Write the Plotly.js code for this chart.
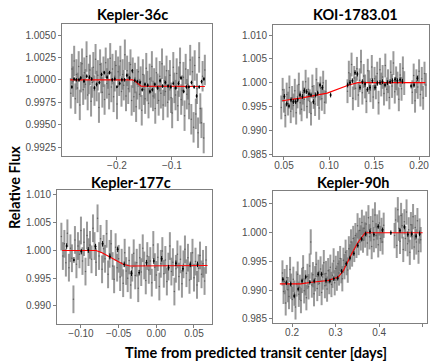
<!DOCTYPE html>
<html>
<head>
<meta charset="utf-8">
<script src="https://cdn.plot.ly/plotly-3.0.1.min.js"></script>
<style>html,body{margin:0;padding:0;background:#fff;}#chart{width:430px;height:364px;}</style>
</head>
<body>
<div id="chart"></div>
<script>
// ---------- Panel titles ----------
const panelTitles = ["Kepler-36c", "KOI-1783.01", "Kepler-177c", "Kepler-90h"];

// ---------- Kepler-36c ----------
const k36_raw_x0 = -0.284, k36_raw_dx = 0.00205, k36_raw_err = 0.0017;
const k36_raw = [
 0.9985,1.0012,0.9998,1.0021,0.9979,1.0006,0.9991,1.0015,0.9972,1.0003,
 1.0018,0.9989,1.0008,0.9995,1.0026,0.9983,1.0001,1.0011,0.9976,0.9997,
 1.0014,0.9988,1.0023,0.9993,1.0005,0.9969,1.0017,1.0002,0.9986,1.0009,
 0.9978,1.0019,0.9996,1.0007,0.9984,1.0024,0.9992,1.0012,0.9981,1.0004,
 1.0016,0.9973,1.0009,0.9999,1.0021,0.9987,1.0006,0.9994,1.0028,0.9982,
 1.0010,0.9990,1.0003,1.0017,0.9977,1.0008,
 0.9981,1.0002,0.9970,0.9995,1.0009,0.9984,0.9998,0.9966,1.0006,0.9989,
 0.9979,1.0013,0.9993,0.9974,1.0001,0.9986,1.0015,0.9982,0.9996,0.9968,
 1.0008,0.9990,0.9977,1.0004,0.9985,1.0018,0.9972,0.9999,0.9987,1.0010,
 0.9975,0.9994,1.0005,0.9980,0.9963,1.0014,0.9991,0.9983,1.0007,0.9971,
 0.9998,1.0019,0.9978,0.9988,1.0003,0.9960,1.0012,0.9984,0.9995,0.9973,
 1.0022,0.9956,1.0009,0.9947,1.0016,0.9962,0.9990,0.9941,1.0025,0.9968,
 0.9952,1.0004,0.9935,1.0011];
const k36_bin_x = [-0.282,-0.278,-0.274,-0.269,-0.266,-0.260,-0.255,-0.250,-0.246,-0.241,
 -0.237,-0.232,-0.228,-0.223,-0.218,-0.2135,-0.2086,-0.204,-0.200,-0.195,
 -0.191,-0.186,-0.182,-0.177,-0.172,-0.1675,-0.163,-0.158,-0.154,-0.149,
 -0.144,-0.140,-0.1356,-0.131,-0.126,-0.1215,-0.117,-0.112,-0.107,-0.102,
 -0.0975,-0.093,-0.088,-0.0834,-0.0785,-0.0736,-0.069,-0.0644,-0.0595,-0.055,
 -0.0503,-0.046,-0.0417];
const k36_bin_y = [0.9992,1.0001,1.0000,1.0000,1.0002,0.99985,1.0004,1.0003,1.0001,0.9991,
 0.9995,0.9997,1.0006,1.0008,1.0003,1.0008,1.0000,1.0001,0.9992,0.9996,
 1.0000,1.0000,1.0005,1.0002,1.0010,0.99993,0.9998,0.9997,0.9989,0.9995,
 0.9994,0.9987,0.9989,0.9995,0.9991,0.9999,0.9993,0.9997,0.9993,0.9992,
 0.9996,0.9991,0.9996,1.0002,0.9987,0.9992,0.9992,0.9997,0.9992,0.9982,
 0.9992,0.9998,1.0001];
const k36_model_x = [-0.285,-0.172,-0.168,-0.164,-0.160,-0.156,-0.040];
const k36_model_y = [1.0000,1.0000,0.9999,0.9997,0.9995,0.9993,0.99925];

// ---------- KOI-1783.01 ----------
const koi_raw_x0 = 0.047, koi_raw_dx = 0.0015, koi_raw_err = 0.0025;
const koi_raw = [
 0.9948,0.9985,0.9962,0.9931,0.9975,0.9956,0.9990,0.9940,0.9968,0.9952,
 0.9983,0.9937,0.9971,0.9996,0.9958,0.9944,0.9979,0.9965,1.0002,0.9950,
 0.9986,0.9961,0.9935,0.9992,0.9970,0.9955,1.0006,0.9976,0.9947,0.9988,
 0.9966,1.0000,0.9959,0.9981,
 null,null,null,null,null,null,null,null,null,null,null,null,null,null,null,
 0.9982,1.0021,0.9995,1.0038,0.9967,1.0010,0.9988,1.0029,0.9974,1.0005,
 1.0044,0.9979,1.0014,0.9992,0.9961,1.0025,1.0001,0.9984,1.0033,0.9970,
 1.0008,0.9990,1.0019,0.9958,1.0027,0.9996,1.0012,0.9977,1.0036,0.9986,
 1.0003,0.9969,1.0022,0.9993,1.0041,0.9981,1.0009,0.9998,0.9965,1.0016,
 0.9987,1.0030,0.9999,
 null,null,null,null,null,
 0.9980,1.0015,0.9962,1.0003,0.9991,1.0024,0.9975,1.0008,0.9968,1.0019,0.9995];
const koi_bin_x = [0.0504,0.053,0.0556,0.0578,0.0604,0.063,0.0652,0.0678,0.0704,0.0726,
 0.0752,0.0778,0.080,0.0826,0.0852,0.0874,0.090,0.0926,0.1018,
 0.1207,0.1233,0.1259,0.1289,0.1315,0.1344,0.137,0.140,0.1426,0.1455,
 0.1481,0.1511,0.1537,0.1566,0.1593,0.1622,0.1648,0.1678,0.1704,0.1733,
 0.1759,0.1789,0.1815,0.1911,0.1944,0.1981];
const koi_bin_y = [0.9971,0.99555,0.9951,0.9964,0.9960,0.9960,0.9964,0.9974,0.9971,0.9983,
 0.9981,0.9976,0.9974,0.9960,0.9974,0.9978,0.9995,0.9990,0.9974,
 0.9995,1.0000,1.0004,1.0021,1.0018,0.9990,1.0002,0.9997,0.9986,0.9990,
 1.0004,0.9990,0.9999,1.0000,1.0002,0.9995,1.0000,1.0002,1.0004,1.0007,
 1.0004,1.0006,1.0003,0.9993,0.9995,1.0009];
const koi_model_x = [0.048,0.070,0.098,0.110,0.122,0.132,0.207];
const koi_model_y = [0.9962,0.9968,0.9978,0.9987,0.9995,1.0000,1.0000];

// ---------- Kepler-177c ----------
const k177_raw_x0 = -0.126, k177_raw_dx = 0.002, k177_raw_err = 0.0025;
const k177_raw = [
 1.0025,0.9990,1.0012,0.9978,1.0031,0.9969,1.0004,0.9986,0.9912,1.0019,
 0.9975,1.0008,0.9993,1.0036,0.9981,1.0015,0.9962,1.0027,0.9997,1.0010,
 0.9984,
 1.0040,1.0008,0.9979,1.0058,0.9990,1.0021,0.9966,1.0003,0.9985,1.0030,
 0.9957,0.9994,1.0012,0.9972,0.9948,1.0006,0.9969,0.9985,0.9952,0.9978,
 0.9941,0.9996,0.9963,
 0.9950,0.9982,0.9938,0.9969,0.9995,0.9955,0.9978,0.9932,0.9987,0.9961,
 1.0004,0.9973,0.9946,0.9990,0.9965,0.9981,0.9942,1.0010,0.9970,0.9956,
 0.9988,0.9935,0.9976,0.9999,0.9958,0.9983,0.9944,0.9971,1.0008,0.9962,
 0.9979,0.9926,0.9967,0.9993,0.9953,0.9984,0.9940,0.9975,1.0002,0.9959,
 0.9987,0.9947,0.9972,0.9996,0.9951,0.9980,0.9938,0.9968,0.9991,0.9957,
 0.9976,0.9945,0.9983];
const k177_bin_x = [-0.119,-0.1093,-0.0996,-0.0903,-0.0806,-0.0713,-0.0616,-0.0513,-0.0426,-0.0329,
 -0.0228,-0.0131,-0.0034,0.0071,0.0163,0.0260,0.0353,0.0450,0.0547];
const k177_bin_y = [1.0008,0.9983,0.9998,1.0001,1.0007,1.0012,0.9989,1.0002,0.9975,0.9959,
 0.9960,0.9978,0.9981,0.9985,0.9969,0.9977,0.9967,0.9975,0.9975];
const k177_model_x = [-0.125,-0.080,-0.072,-0.062,-0.052,-0.044,-0.035,0.068];
const k177_model_y = [1.0000,1.0000,0.9996,0.9989,0.9981,0.9975,0.9972,0.9973];

// ---------- Kepler-90h ----------
const k90_raw_x0 = 0.178, k90_raw_dx = 0.0025, k90_raw_err = 0.0022;
const k90_raw = [
 0.9930,0.9898,0.9915,0.9878,0.9922,0.9901,0.9889,0.9936,0.9907,0.9884,
 0.9919,0.9895,0.9871,0.9911,0.9928,0.9893,0.9905,0.9882,0.9917,0.9939,
 0.9899,0.9913,0.9887,0.9924,0.9906,0.9942,0.9984,0.9909,0.9927,0.9894,
 0.9920,0.9945,0.9903,0.9931,0.9912,0.9937,0.9896,0.9923,0.9948,0.9908,
 0.9929,0.9902,0.9934,0.9915,0.9940,0.9910,
 0.9926,0.9951,0.9913,0.9938,0.9921,0.9946,0.9930,0.9955,
 0.9934,0.9920,0.9952,0.9941,0.9966,0.9948,0.9935,0.9972,0.9958,0.9984,
 0.9963,0.9990,0.9971,0.9995,0.9978,1.0012,0.9983,1.0004,0.9991,1.0018,
 0.9987,1.0008,0.9996,
 1.0015,0.9982,1.0026,0.9993,1.0007,0.9976,1.0020,0.9988,1.0031,0.9995,
 1.0010,0.9979,1.0017,0.9990,1.0004,0.9984,1.0013,
 null,null,null,null,null,null,null,null,null,
 0.9995,1.0022,0.9978,1.0040,1.0008,0.9985,1.0030,1.0012,0.9971,1.0019,
 0.9990,1.0036,0.9981,1.0005,0.9966,1.0014,0.9993,1.0028,0.9975,1.0009,
 0.9984,1.0021,0.9968,1.0003,0.9988];
const k90_bin_x = [0.179,0.187,0.197,0.205,0.214,0.223,0.2315,0.241,0.251,0.260,
 0.268,0.278,0.287,0.296,0.305,0.314,0.3246,0.333,0.342,0.351,
 0.360,0.369,0.379,0.388,0.398,0.408,0.427,0.448,0.458,0.466,
 0.475,0.485,0.493];
const k90_bin_y = [0.9919,0.9913,0.9911,0.9890,0.9902,0.9916,0.9923,0.9914,0.9916,0.9928,
 0.9928,0.9917,0.9916,0.9920,0.9921,0.9933,0.9946,0.9956,0.9964,0.9978,
 0.9989,0.9998,1.0002,0.9997,1.0011,1.0005,1.0000,1.0004,1.0010,0.9997,
 0.9998,0.9994,0.9998];
const k90_model_x = [0.172,0.220,0.245,0.283,0.306,0.318,0.337,0.352,0.368,0.500];
const k90_model_y = [0.9911,0.9911,0.9914,0.9917,0.9923,0.9934,0.99635,0.9984,1.0000,1.0000];

// ---------- tick labels ----------
const k36_yticks = [0.9925,0.9950,0.9975,1.0000,1.0025,1.0050];
const koi_yticks = [0.985,0.990,0.995,1.000,1.005,1.010];
const k177_yticks = [0.990,0.995,1.000,1.005,1.010];
const k90_yticks = [0.985,0.990,0.995,1.000,1.005];
const k36_xticks = [-0.2,-0.1];
const koi_xticks = [0.05,0.10,0.15,0.20];
const k177_xticks = [-0.10,-0.05,0.00,0.05];
const k90_xticks = [0.2,0.3,0.4,0.5];

const xAxisTitle = "Time from predicted transit center [days]";
const yAxisTitle = "Relative Flux";

// ---------- build traces ----------
const panels = [
  {raw:k36_raw,x0:k36_raw_x0,dx:k36_raw_dx,err:k36_raw_err,bx:k36_bin_x,by:k36_bin_y,berr:0.0002,mx:k36_model_x,my:k36_model_y},
  {raw:koi_raw,x0:koi_raw_x0,dx:koi_raw_dx,err:koi_raw_err,bx:koi_bin_x,by:koi_bin_y,berr:0.0005,mx:koi_model_x,my:koi_model_y},
  {raw:k177_raw,x0:k177_raw_x0,dx:k177_raw_dx,err:k177_raw_err,bx:k177_bin_x,by:k177_bin_y,berr:0.0005,mx:k177_model_x,my:k177_model_y},
  {raw:k90_raw,x0:k90_raw_x0,dx:k90_raw_dx,err:k90_raw_err,bx:k90_bin_x,by:k90_bin_y,berr:0.0004,mx:k90_model_x,my:k90_model_y}
];
const traces = [];
panels.forEach((p,i)=>{
  const sfx = i===0 ? '' : String(i+1);
  const xa = 'x'+sfx, ya = 'y'+sfx;
  traces.push({type:'scatter',mode:'markers',y:p.raw,x0:p.x0,dx:p.dx,xaxis:xa,yaxis:ya,
    marker:{size:1.5,color:'rgba(80,80,80,0.8)'},
    error_y:{type:'constant',value:p.err,color:'rgba(115,115,115,0.72)',thickness:2,width:0},
    showlegend:false,hoverinfo:'skip'});
  traces.push({type:'scatter',mode:'lines',x:p.mx,y:p.my,xaxis:xa,yaxis:ya,
    line:{color:'#ff0000',width:1.1},showlegend:false,hoverinfo:'skip'});
  traces.push({type:'scatter',mode:'markers',x:p.bx,y:p.by,xaxis:xa,yaxis:ya,
    marker:{size:2,color:'#000'},
    error_y:{type:'constant',value:p.berr,color:'#000',thickness:1,width:0},
    showlegend:false,hoverinfo:'skip'});
});

const tickFont = {family:'Liberation Sans, Arial, sans-serif',size:10,color:'#4d4d4d'};
function axBase(){
  return {showgrid:false,zeroline:false,showline:true,mirror:true,linecolor:'#7f7f7f',linewidth:1,
    ticks:'outside',ticklen:3,tickcolor:'#7f7f7f',tickfont:tickFont,tickmode:'array'};
}
function xBase(){ return Object.assign(axBase(),{ticklabelstandoff:-3}); }
function W(a,b){return [a/430,b/430];}
function H(top,bot){return [1-bot/364,1-top/364];}

const layout = {
  width:430,height:364,margin:{l:0,r:0,t:0,b:0},
  paper_bgcolor:'#fff',plot_bgcolor:'#fff',showlegend:false,
  xaxis:Object.assign(xBase(),{domain:W(62,212),range:[-0.300,-0.027],anchor:'y',tickvals:k36_xticks,tickformat:'.1f'}),
  yaxis:Object.assign(axBase(),{domain:H(24,156),range:[0.9915,1.00623],anchor:'x',tickvals:k36_yticks,tickformat:'.4f'}),
  xaxis2:Object.assign(xBase(),{domain:W(273,429),range:[0.0378,0.211],anchor:'y2',tickvals:koi_xticks,tickformat:'.2f'}),
  yaxis2:Object.assign(axBase(),{domain:H(25,156),range:[0.9846,1.0121],anchor:'x2',tickvals:koi_yticks,tickformat:'.3f'}),
  xaxis3:Object.assign(xBase(),{domain:W(57,212),range:[-0.1318,0.0739],anchor:'y3',tickvals:k177_xticks,tickformat:'.2f'}),
  yaxis3:Object.assign(axBase(),{domain:H(190,324),range:[0.98675,1.0109],anchor:'x3',tickvals:k177_yticks,tickformat:'.3f'}),
  xaxis4:Object.assign(xBase(),{domain:W(273,427),range:[0.1563,0.510],anchor:'y4',tickvals:k90_xticks,tickformat:'.1f'}),
  yaxis4:Object.assign(axBase(),{domain:H(191,323),range:[0.9843,1.00726],anchor:'x4',tickvals:k90_yticks,tickformat:'.3f'}),
  annotations:[
    {text:'<b>'+panelTitles[0]+'</b>',x:132/430,y:1-15/364},
    {text:'<b>'+panelTitles[1]+'</b>',x:355/430,y:1-15/364},
    {text:'<b>'+panelTitles[2]+'</b>',x:131/430,y:1-182/364},
    {text:'<b>'+panelTitles[3]+'</b>',x:353/430,y:1-182/364},
    {text:'<b>'+xAxisTitle+'</b>',x:256/430,y:1-352/364},
    {text:'<b>'+yAxisTitle+'</b>',x:14/430,y:1-188/364,textangle:-90}
  ].map(a=>Object.assign({xref:'paper',yref:'paper',showarrow:false,xanchor:'center',yanchor:'middle',
    font:{family:'Lato, Open Sans, sans-serif',size:14.5,color:'#000'}},a))
};

Plotly.newPlot('chart',traces,layout,{staticPlot:true,displayModeBar:false});
</script>
</body>
</html>
